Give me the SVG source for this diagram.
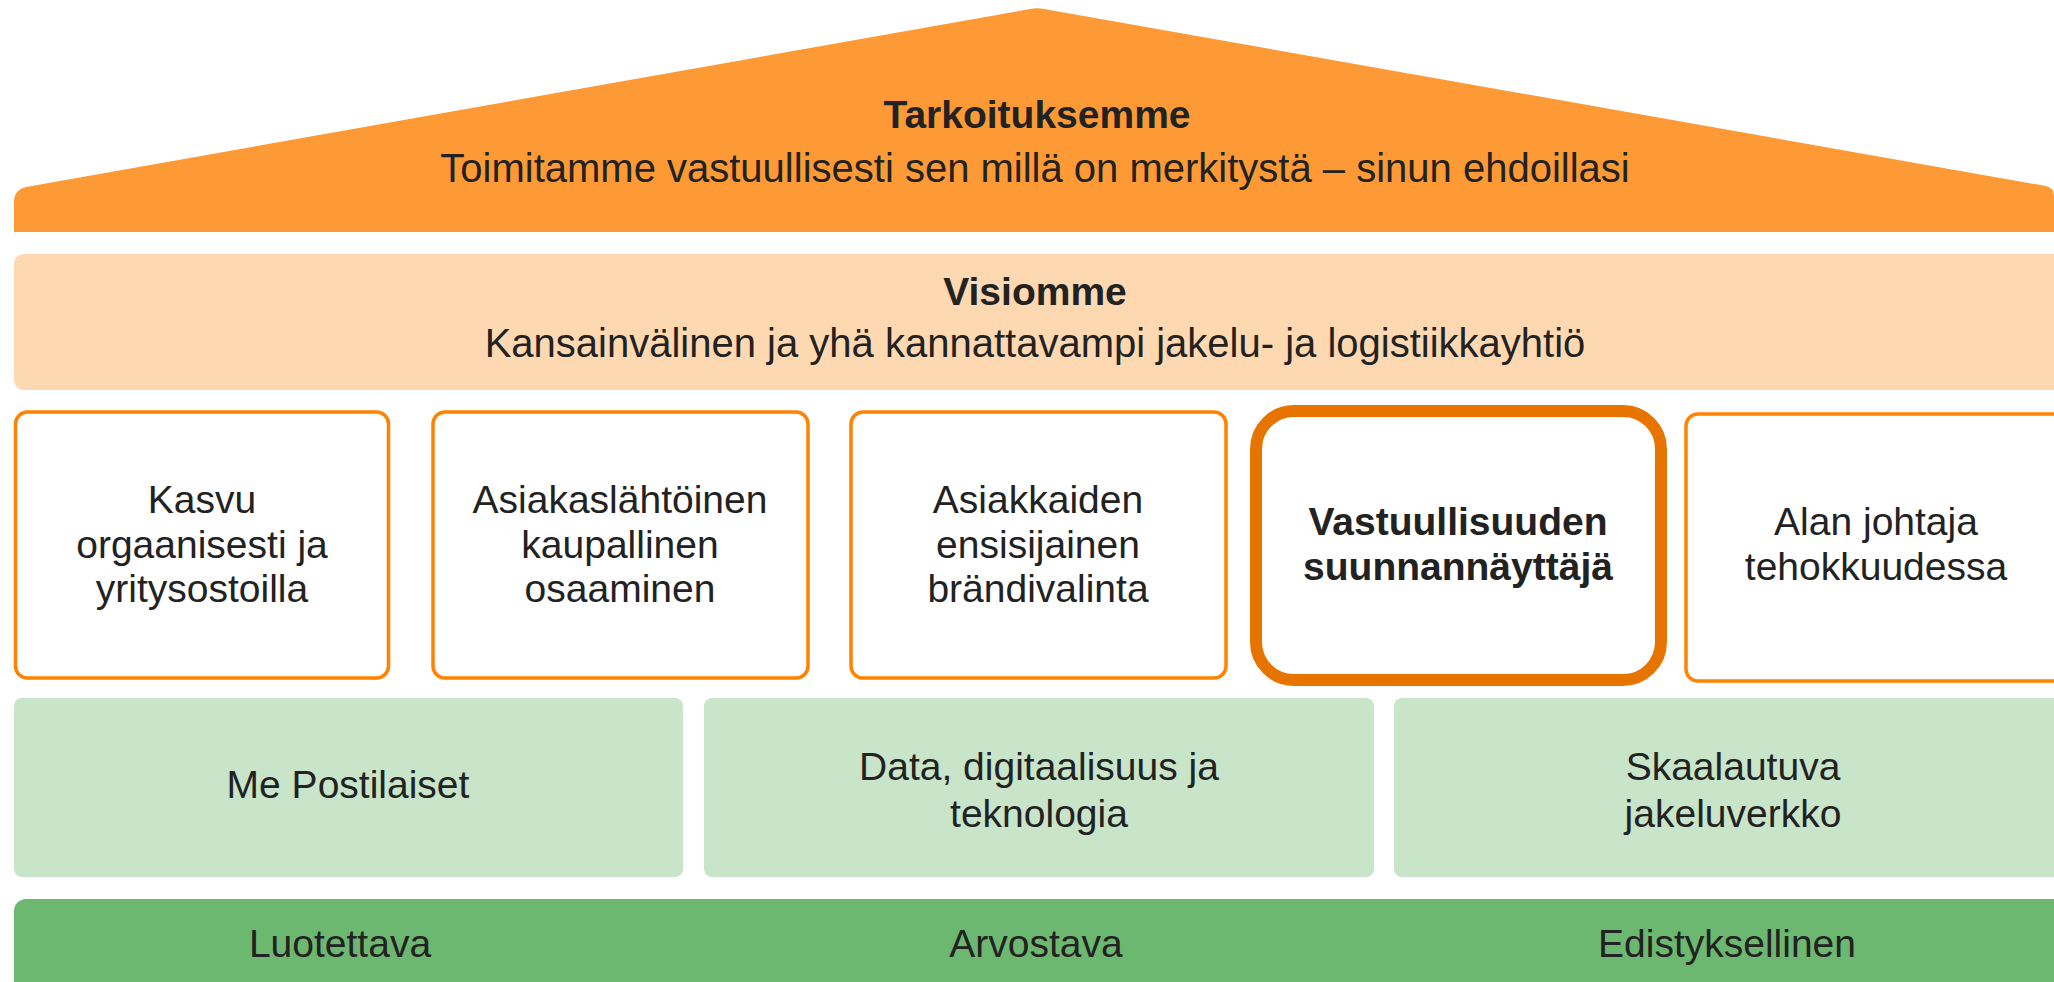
<svg xmlns="http://www.w3.org/2000/svg" width="2054" height="982" viewBox="0 0 2054 982">
<style>
text{font-family:"Liberation Sans",Arial,sans-serif;font-size:39px;fill:#222222;text-anchor:middle}
.b{font-weight:bold}
.sub{font-size:40px}
.card{fill:#ffffff;stroke:#FF8200;stroke-width:3.5}
.hl{fill:#ffffff;stroke:#E87400;stroke-width:12}
.lg{fill:#C8E4C9}
</style>
<rect width="2054" height="982" fill="#ffffff"/>
<g id="roof">
<path d="M14,232 L14,202 Q14,190 26,187 L1030,9 Q1037,7.5 1044,9 L2046,186 Q2054,188 2054,196 L2054,232 Z" fill="#FD9A35"/>
<text class="b" x="1037" y="128">Tarkoituksemme</text>
<text class="sub" x="1035" y="182">Toimitamme vastuullisesti sen millä on merkitystä – sinun ehdoillasi</text>
</g>
<g id="vision">
<rect x="14" y="254" width="2060" height="136" rx="10" fill="#FED8B0"/>
<text class="b" x="1035" y="305">Visiomme</text>
<text class="sub" x="1035" y="357">Kansainvälinen ja yhä kannattavampi jakelu- ja logistiikkayhtiö</text>
</g>
<g id="goal1">
<rect class="card" x="15.5" y="412" width="373" height="266" rx="12"/>
<text x="202" y="513">Kasvu</text>
<text x="202" y="557.5">orgaanisesti ja</text>
<text x="202" y="602">yritysostoilla</text>
</g>
<g id="goal2">
<rect class="card" x="433" y="412" width="375" height="266" rx="12"/>
<text x="620" y="513">Asiakaslähtöinen</text>
<text x="620" y="557.5">kaupallinen</text>
<text x="620" y="602">osaaminen</text>
</g>
<g id="goal3">
<rect class="card" x="851" y="412" width="375" height="266" rx="12"/>
<text x="1038" y="513">Asiakkaiden</text>
<text x="1038" y="557.5">ensisijainen</text>
<text x="1038" y="602">brändivalinta</text>
</g>
<g id="goal4">
<rect class="hl" x="1256" y="411" width="405" height="269" rx="38"/>
<text class="b" x="1458" y="535">Vastuullisuuden</text>
<text class="b" x="1458" y="580">suunnannäyttäjä</text>
</g>
<g id="goal5">
<rect class="card" x="1686" y="414" width="400" height="267" rx="12"/>
<text x="1876" y="535">Alan johtaja</text>
<text x="1876" y="580">tehokkuudessa</text>
</g>
<g id="enabler1">
<rect class="lg" x="14" y="698" width="669" height="179" rx="8"/>
<text x="348" y="798">Me Postilaiset</text>
</g>
<g id="enabler2">
<rect class="lg" x="704" y="698" width="670" height="179" rx="8"/>
<text x="1039" y="780">Data, digitaalisuus ja</text>
<text x="1039" y="827">teknologia</text>
</g>
<g id="enabler3">
<rect class="lg" x="1394" y="698" width="680" height="179" rx="8"/>
<text x="1733" y="780">Skaalautuva</text>
<text x="1733" y="827">jakeluverkko</text>
</g>
<g id="values">
<rect x="14" y="899" width="2060" height="100" rx="12" fill="#6DB870"/>
<text x="340" y="957">Luotettava</text>
<text x="1036" y="957">Arvostava</text>
<text x="1727" y="957">Edistyksellinen</text>
</g>
<g id="connectors"/>
</svg>
